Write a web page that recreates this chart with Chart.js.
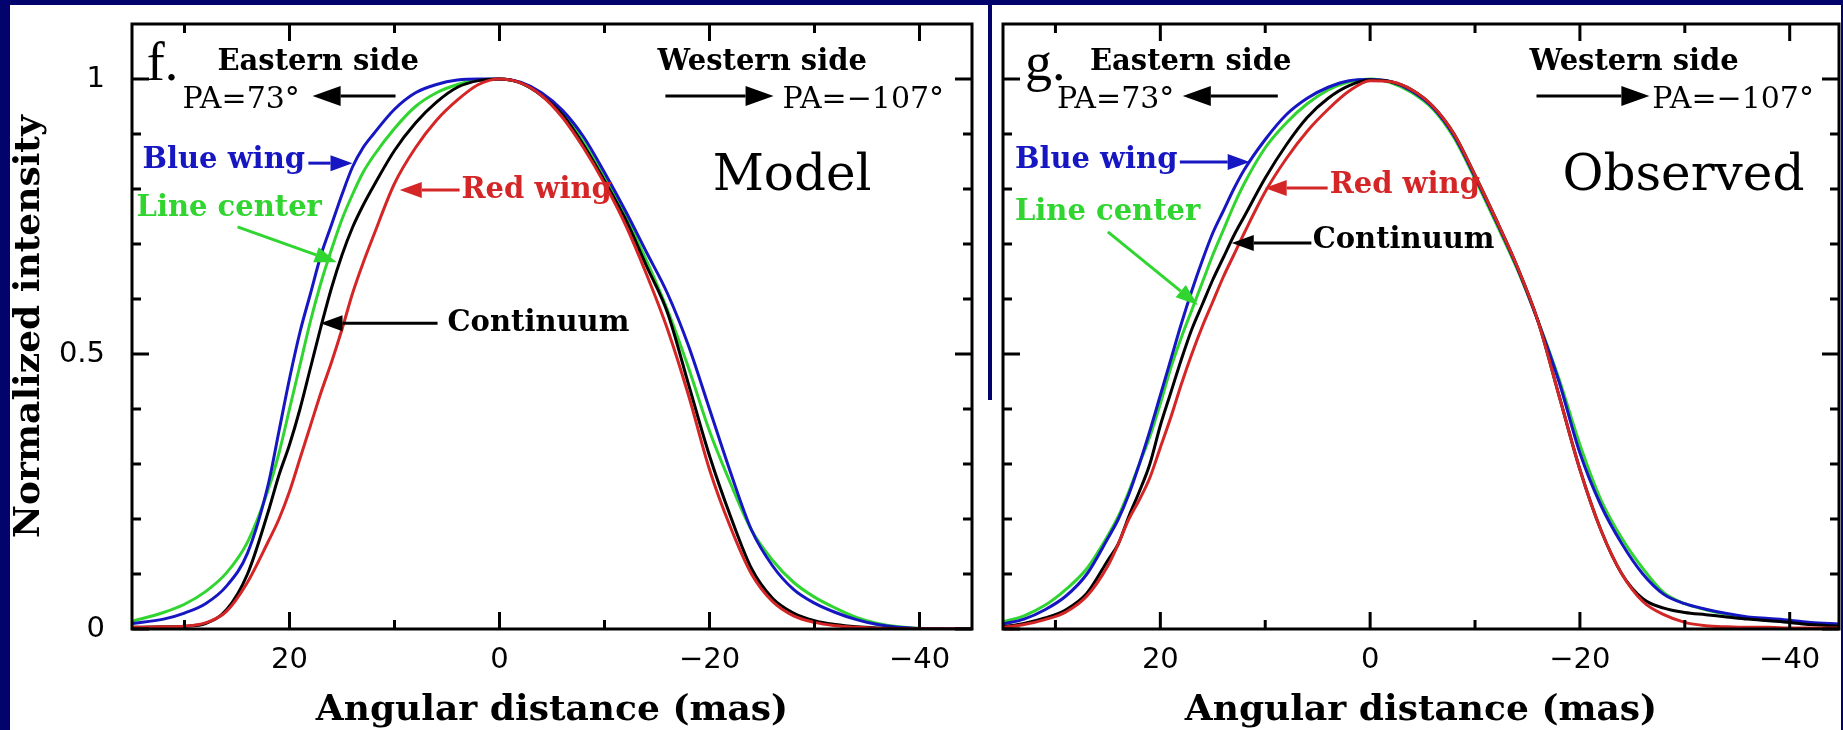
<!DOCTYPE html>
<html lang="en">
<head>
<meta charset="UTF-8">
<title>Intensity profiles: model and observed</title>
<script src="https://cdn.jsdelivr.net/npm/chart.js"></script>
<style>
    html, body { margin: 0; padding: 0; }
    body { width: 1843px; height: 730px; background: #03036e; position: relative; overflow: hidden; }
    canvas { position: absolute; background: #ffffff; }
    #modelChart { left: 10px; top: 5px; }
    #obsChart { left: 992px; top: 5px; }
    .gapfill { position: absolute; left: 986px; top: 400px; width: 8px; height: 330px; background: #ffffff; }
</style>
</head>
<body>
<div class="gapfill"></div>
<canvas id="modelChart" width="978" height="725"></canvas>
<canvas id="obsChart" width="849" height="725"></canvas>
<script>
// angular distance (mas), east is positive
const modelDist = [35, 32, 30, 28, 26, 24, 22, 21, 20, 19, 18, 17, 16, 15, 14, 13, 12, 10, 8, 6, 4, 2, 0,
    -2, -4, -6, -8, -10, -12, -14, -16, -18, -20, -22, -24, -26, -28, -30, -32, -34, -36, -38, -40, -45];
const modelBlue = [0.010, 0.018, 0.029, 0.046, 0.078, 0.138, 0.265, 0.36, 0.455, 0.54, 0.61, 0.68, 0.735, 0.79, 0.84, 0.875, 0.90, 0.945, 0.975, 0.99, 0.998, 1.0, 1.0,
    0.994, 0.975, 0.943, 0.895, 0.83, 0.76, 0.685, 0.61, 0.515, 0.40, 0.285, 0.18, 0.115, 0.072, 0.047, 0.030, 0.017, 0.008, 0.003, 0.001, 0];
const modelGreen = [0.014, 0.030, 0.045, 0.068, 0.102, 0.158, 0.255, 0.32, 0.40, 0.48, 0.56, 0.63, 0.69, 0.745, 0.79, 0.83, 0.86, 0.91, 0.95, 0.975, 0.99, 0.998, 1.0,
    0.993, 0.972, 0.938, 0.885, 0.82, 0.75, 0.67, 0.58, 0.475, 0.36, 0.265, 0.18, 0.125, 0.085, 0.058, 0.038, 0.021, 0.010, 0.004, 0.001, 0];
const modelBlack = [0.003, 0.004, 0.005, 0.010, 0.035, 0.10, 0.215, 0.28, 0.335, 0.40, 0.475, 0.55, 0.62, 0.68, 0.73, 0.77, 0.805, 0.87, 0.92, 0.958, 0.985, 0.997, 1.0,
    0.993, 0.97, 0.935, 0.88, 0.815, 0.745, 0.66, 0.575, 0.445, 0.315, 0.205, 0.11, 0.056, 0.029, 0.015, 0.008, 0.004, 0.002, 0.001, 0, 0];
const modelRed = [0.003, 0.004, 0.005, 0.011, 0.032, 0.085, 0.16, 0.20, 0.25, 0.31, 0.37, 0.43, 0.485, 0.545, 0.61, 0.665, 0.715, 0.81, 0.875, 0.925, 0.962, 0.99, 1.0,
    0.993, 0.97, 0.93, 0.875, 0.81, 0.735, 0.645, 0.545, 0.425, 0.29, 0.185, 0.10, 0.05, 0.024, 0.012, 0.006, 0.003, 0.001, 0, 0, 0];

const obsDist = [35, 33, 31, 29, 27, 25, 24, 23, 22, 21, 20, 19, 18, 17, 16, 15, 14, 13, 12, 10, 8, 6, 4, 2, 0,
    -2, -4, -6, -8, -10, -12, -14, -16, -18, -20, -22, -24, -26, -28, -30, -32, -34, -36, -38, -40, -42, -44.7];
const obsBlue = [0.009, 0.018, 0.035, 0.060, 0.10, 0.165, 0.20, 0.245, 0.30, 0.36, 0.425, 0.49, 0.555, 0.615, 0.67, 0.72, 0.76, 0.80, 0.835, 0.89, 0.935, 0.965, 0.985, 0.997, 0.999,
    0.995, 0.978, 0.948, 0.897, 0.822, 0.742, 0.658, 0.56, 0.45, 0.32, 0.225, 0.155, 0.10, 0.063, 0.046, 0.036, 0.028, 0.022, 0.019, 0.016, 0.012, 0.009];
const obsGreen = [0.013, 0.024, 0.043, 0.072, 0.11, 0.17, 0.205, 0.25, 0.30, 0.35, 0.41, 0.475, 0.53, 0.58, 0.63, 0.68, 0.725, 0.77, 0.81, 0.875, 0.92, 0.955, 0.98, 0.995, 1.0,
    0.993, 0.975, 0.945, 0.893, 0.818, 0.738, 0.655, 0.56, 0.455, 0.335, 0.235, 0.165, 0.11, 0.066, 0.046, 0.035, 0.027, 0.021, 0.017, 0.014, 0.010, 0.007];
const obsBlack = [0.004, 0.010, 0.020, 0.035, 0.065, 0.125, 0.155, 0.205, 0.25, 0.30, 0.37, 0.43, 0.49, 0.545, 0.59, 0.635, 0.675, 0.715, 0.75, 0.82, 0.88, 0.93, 0.965, 0.988, 0.998,
    0.995, 0.98, 0.95, 0.90, 0.825, 0.745, 0.66, 0.56, 0.425, 0.29, 0.18, 0.10, 0.055, 0.038, 0.030, 0.026, 0.022, 0.018, 0.015, 0.012, 0.008, 0.005];
const obsRed = [0.003, 0.008, 0.017, 0.031, 0.06, 0.115, 0.155, 0.20, 0.235, 0.275, 0.33, 0.385, 0.445, 0.50, 0.55, 0.595, 0.64, 0.68, 0.72, 0.795, 0.855, 0.905, 0.945, 0.978, 0.997,
    0.995, 0.98, 0.95, 0.90, 0.825, 0.745, 0.66, 0.56, 0.425, 0.29, 0.18, 0.10, 0.05, 0.026, 0.012, 0.006, 0.004, 0.003, 0.003, 0.002, 0.002, 0.002];

// tick positions (every tick gets a mark, only some get a label)
const xTickValues = [30, 20, 10, 0, -10, -20, -30, -40];
const xLabelValues = [20, 0, -20, -40];
const yTickValues = [0, 0.1, 0.2, 0.3, 0.4, 0.5, 0.6, 0.7, 0.8, 0.9, 1.0];
const yLabelValues = [0, 0.5, 1];

const BLUE = '#1616c2';
const GREEN = '#30d530';
const RED = '#d42626';
const BLACK = '#000000';

const SERIF = '"DejaVu Serif", serif';
const LABEL_FONT = 'bold 29px ' + SERIF;
const SIDE_FONT = 'bold 29px ' + SERIF;
const PA_FONT = '30px ' + SERIF;
const PANEL_FONT = '50px ' + SERIF;
const LETTER_FONT = '54px "Liberation Serif", serif';

function isMultiple(v, step) {
    return Math.abs(v / step - Math.round(v / step)) < 1e-6;
}

function hasValue(list, v) {
    return list.some(l => Math.abs(l - v) < 1e-6);
}

function fmtX(v) {
    return v < 0 ? '\u2212' + Math.abs(v) : String(v);
}

// text labels and arrows placed in data coordinates
function panelNotes(letter, letterX, panelName, panelX, east, west, labels) {
    return {
        texts: [
            { text: letter, x: letterX, y: 0.998, font: LETTER_FONT, color: BLACK },
            { text: 'Eastern side', x: east.side, y: 1.016, font: SIDE_FONT, color: BLACK },
            { text: 'PA=73\u00b0', x: east.pa, y: 0.947, font: PA_FONT, color: BLACK },
            { text: 'Western side', x: west.side, y: 1.016, font: SIDE_FONT, color: BLACK },
            { text: 'PA=\u2212107\u00b0', x: west.pa, y: 0.947, font: PA_FONT, color: BLACK },
            { text: panelName, x: panelX, y: 0.798, font: PANEL_FONT, color: BLACK }
        ].concat(labels.texts),
        arrows: [
            { from: [east.arrow[0], 0.969], to: [east.arrow[1], 0.969], color: BLACK, head: 28, half: 10 },
            { from: [west.arrow[0], 0.969], to: [west.arrow[1], 0.969], color: BLACK, head: 28, half: 10 }
        ].concat(labels.arrows)
    };
}

const modelNotes = panelNotes('f.', 33.6, 'Model', -20.3,
    { side: 26.86, pa: 30.2, arrow: [9.9, 17.8] },
    { side: -15.05, pa: -26.95, arrow: [-15.8, -26.1] },
    {
        texts: [
            { text: 'Blue wing', x: 34.0, y: 0.851, font: LABEL_FONT, color: BLUE, base: 'middle' },
            { text: 'Line center', x: 34.57, y: 0.765, font: LABEL_FONT, color: GREEN, base: 'middle' },
            { text: 'Red wing', x: 3.62, y: 0.798, font: LABEL_FONT, color: RED, base: 'middle' },
            { text: 'Continuum', x: 4.95, y: 0.556, font: LABEL_FONT, color: BLACK, base: 'middle' }
        ],
        arrows: [
            { from: [18.2, 0.847], to: [14.0, 0.847], color: BLUE, head: 22, half: 8 },
            { from: [24.95, 0.731], to: [15.5, 0.667], color: GREEN, head: 22, half: 8 },
            { from: [3.8, 0.798], to: [9.5, 0.798], color: RED, head: 22, half: 8 },
            { from: [5.9, 0.556], to: [17.05, 0.556], color: BLACK, head: 22, half: 8 }
        ]
    });

const obsNotes = panelNotes('g.', 32.9, 'Observed', -18.33,
    { side: 26.71, pa: 29.86, arrow: [8.8, 17.86] },
    { side: -15.19, pa: -26.9, arrow: [-15.86, -26.62] },
    {
        texts: [
            { text: 'Blue wing', x: 33.86, y: 0.851, font: LABEL_FONT, color: BLUE, base: 'middle' },
            { text: 'Line center', x: 33.86, y: 0.758, font: LABEL_FONT, color: GREEN, base: 'middle' },
            { text: 'Red wing', x: 3.86, y: 0.807, font: LABEL_FONT, color: RED, base: 'middle' },
            { text: 'Continuum', x: 5.48, y: 0.707, font: LABEL_FONT, color: BLACK, base: 'middle' }
        ],
        arrows: [
            { from: [18.14, 0.849], to: [11.48, 0.849], color: BLUE, head: 22, half: 8 },
            { from: [25.0, 0.722], to: [16.43, 0.589], color: GREEN, head: 22, half: 8 },
            { from: [4.05, 0.802], to: [10.05, 0.802], color: RED, head: 22, half: 8 },
            { from: [5.6, 0.702], to: [13.19, 0.702], color: BLACK, head: 22, half: 8 }
        ]
    });

function drawArrow(ctx, x0, y0, x1, y1, a) {
    const ang = Math.atan2(y1 - y0, x1 - x0);
    const bx = x1 - a.head * Math.cos(ang);
    const by = y1 - a.head * Math.sin(ang);
    ctx.strokeStyle = a.color;
    ctx.fillStyle = a.color;
    ctx.lineWidth = 3;
    ctx.beginPath();
    ctx.moveTo(x0, y0);
    ctx.lineTo(bx, by);
    ctx.stroke();
    ctx.beginPath();
    ctx.moveTo(x1, y1);
    ctx.lineTo(bx + a.half * Math.sin(ang), by - a.half * Math.cos(ang));
    ctx.lineTo(bx - a.half * Math.sin(ang), by + a.half * Math.cos(ang));
    ctx.closePath();
    ctx.fill();
}

// box frame with inward ticks on all four sides
const framePlugin = {
    id: 'frame',
    afterDatasetsDraw(chart) {
        const { ctx, chartArea: a, scales: { x, y } } = chart;
        ctx.save();
        ctx.strokeStyle = BLACK;
        ctx.lineWidth = 3;
        ctx.lineCap = 'square';
        ctx.strokeRect(a.left, a.top, a.right - a.left, a.bottom - a.top);
        ctx.lineCap = 'butt';
        ctx.beginPath();
        x.ticks.forEach(t => {
            const px = x.getPixelForValue(t.value);
            const len = isMultiple(t.value, 20) ? 17 : 9;
            ctx.moveTo(px, a.bottom); ctx.lineTo(px, a.bottom - len);
            ctx.moveTo(px, a.top); ctx.lineTo(px, a.top + len);
        });
        y.ticks.forEach(t => {
            const py = y.getPixelForValue(t.value);
            const len = isMultiple(t.value, 0.5) ? 17 : 9;
            ctx.moveTo(a.left, py); ctx.lineTo(a.left + len, py);
            ctx.moveTo(a.right, py); ctx.lineTo(a.right - len, py);
        });
        ctx.stroke();
        ctx.restore();
    }
};

function notesPlugin(notes) {
    return {
        id: 'notes',
        afterDraw(chart) {
            const { ctx, scales: { x, y } } = chart;
            ctx.save();
            notes.texts.forEach(n => {
                ctx.font = n.font;
                ctx.fillStyle = n.color;
                ctx.textAlign = 'left';
                ctx.textBaseline = n.base || 'alphabetic';
                ctx.fillText(n.text, x.getPixelForValue(n.x), y.getPixelForValue(n.y));
            });
            notes.arrows.forEach(ar => {
                drawArrow(ctx,
                    x.getPixelForValue(ar.from[0]), y.getPixelForValue(ar.from[1]),
                    x.getPixelForValue(ar.to[0]), y.getPixelForValue(ar.to[1]), ar);
            });
            ctx.restore();
        }
    };
}

function noLabelPadding(s) {
    s.paddingTop = 0;
    s.paddingBottom = 0;
    s.paddingLeft = 0;
    s.paddingRight = 0;
}

function buildChart(id, dist, series, cfg) {
    const datasets = series.map(s => ({
        data: dist.map((d, i) => ({ x: d, y: s.values[i] })),
        borderColor: s.color,
        borderWidth: 3,
        pointRadius: 0,
        fill: false,
        cubicInterpolationMode: 'monotone'
    }));
    return new Chart(document.getElementById(id), {
        type: 'line',
        data: { datasets },
        options: {
            responsive: false,
            animation: false,
            devicePixelRatio: 1,
            events: [],
            layout: { padding: { top: 19, right: cfg.padRight, left: 0, bottom: 0 } },
            plugins: { legend: { display: false }, tooltip: { enabled: false } },
            scales: {
                x: {
                    type: 'linear',
                    reverse: true,
                    min: cfg.xMin,
                    max: 35,
                    grid: { display: false, drawTicks: false },
                    border: { display: false },
                    afterBuildTicks: s => {
                        s.ticks = xTickValues.filter(v => v >= s.min && v <= s.max).map(v => ({ value: v }));
                    },
                    ticks: {
                        autoSkip: false,
                        maxRotation: 0,
                        minRotation: 0,
                        padding: 14,
                        color: BLACK,
                        font: { family: '"DejaVu Sans", sans-serif', size: 29 },
                        callback: v => hasValue(xLabelValues, v) ? fmtX(v) : ''
                    },
                    title: {
                        display: true,
                        text: 'Angular distance (mas)',
                        color: BLACK,
                        font: { family: SERIF, size: 36, weight: 'bold', lineHeight: 1.1 },
                        padding: { top: 0, bottom: 0 }
                    },
                    afterFit: s => { s.height = 101; noLabelPadding(s); }
                },
                y: {
                    type: 'linear',
                    min: 0,
                    max: 1.1,
                    grid: { display: false, drawTicks: false },
                    border: { display: false },
                    afterBuildTicks: s => {
                        s.ticks = yTickValues.map(v => ({ value: v }));
                    },
                    ticks: {
                        display: cfg.yLabels,
                        autoSkip: false,
                        padding: 27,
                        color: BLACK,
                        font: { family: '"DejaVu Sans", sans-serif', size: 29 },
                        callback: v => hasValue(yLabelValues, v) ? String(Math.round(v * 10) / 10) : ''
                    },
                    title: {
                        display: cfg.yLabels,
                        text: 'Normalized intensity',
                        color: BLACK,
                        font: { family: SERIF, size: 36, weight: 'bold', lineHeight: 1.1 },
                        padding: { top: 0, bottom: 0 }
                    },
                    afterFit: s => { s.width = cfg.yWidth; noLabelPadding(s); }
                }
            }
        },
        plugins: [framePlugin, notesPlugin(cfg.notes)]
    });
}

// first dataset is drawn on top
buildChart('modelChart', modelDist, [
    { values: modelRed, color: RED },
    { values: modelBlack, color: BLACK },
    { values: modelBlue, color: BLUE },
    { values: modelGreen, color: GREEN }
], { xMin: -45, padRight: 16, yWidth: 122, yLabels: true, notes: modelNotes });

buildChart('obsChart', obsDist, [
    { values: obsRed, color: RED },
    { values: obsBlack, color: BLACK },
    { values: obsBlue, color: BLUE },
    { values: obsGreen, color: GREEN }
], { xMin: -44.7, padRight: 2, yWidth: 11, yLabels: false, notes: obsNotes });
</script>
</body>
</html>
